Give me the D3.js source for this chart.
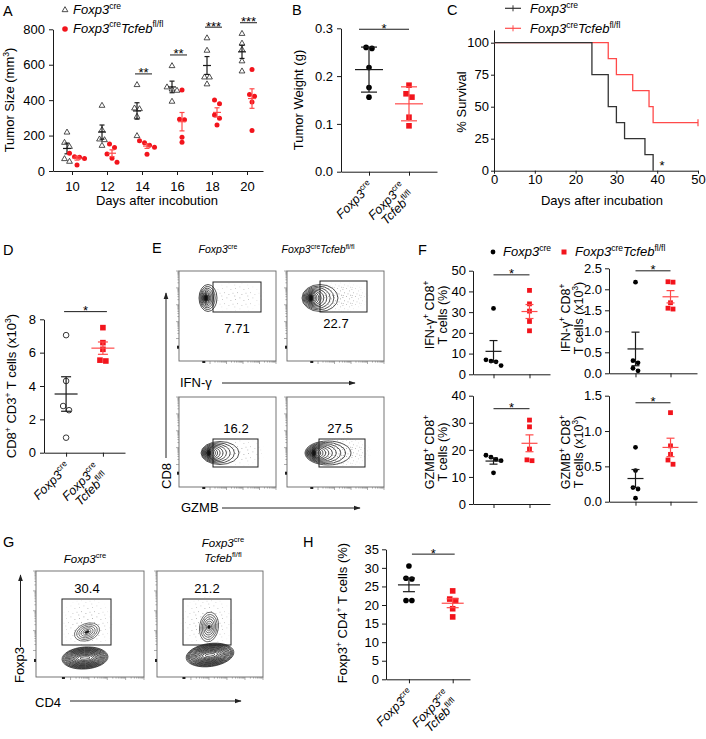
<!DOCTYPE html>
<html><head><meta charset="utf-8">
<script src="https://cdn.jsdelivr.net/npm/d3@7"></script>
<style>body{margin:0;background:#fff} svg{display:block}</style>
</head><body>
<script>
// ================= DATA =================
const genoCre = "*Foxp3*^cre^";
const genoKO = "*Foxp3*^cre^*Tcfeb*^fl/fl^";

// A: tumor size (mm3)
const aDays = [10, 12, 14, 16, 18, 20];
const aCre = [[218,160,137,68,53],[369,232,179,175,143],[486,354,350,307,198],[593,473,461,454,392],[750,680,529,529,490],[775,720,685,620,563]];
const aKO  = [[100,81,77,70,34],[153,132,96,72,49],[171,160,145,134,94],[458,292,290,190,162],[401,379,316,298,260],[573,432,422,390,228]];
const aSig = ["", "", "**", "**", "***", "***"];
const aYTicks = [0, 200, 400, 600, 800];

// B: tumor weight (g)
const bCre = [0.260, 0.258, 0.218, 0.176, 0.156];
const bKO  = [0.181, 0.163, 0.156, 0.114, 0.096];
const bYTicks = [0, 0.1, 0.2, 0.3];

// C: survival
const cCreDays = [0, 24, 28, 30, 32, 37, 39];
const cCreSurv = [100, 75, 50, 37.5, 25, 12.5, 0];
const cKODays  = [0, 28, 30, 34, 38, 39, 50];
const cKOSurv  = [100, 87.5, 75, 62.5, 50, 37.5, 37.5];
const cXTicks = [0, 10, 20, 30, 40, 50];
const cYTicks = [0, 25, 50, 75, 100];

// D: CD8+CD3+ T cells (x10^3)
const dCre = [7.05, 4.3, 2.8, 2.55, 0.9];
const dKO  = [7.5, 6.6, 6.2, 5.5, 5.55];
const dYTicks = [0, 2, 4, 6, 8];

// E: flow gate percentages
const eGates = [7.71, 22.7, 16.2, 27.5];

// F
const fIfnPctCre = [31.8, 7.0, 6.4, 6.0, 4.2];
const fIfnPctKO  = [40.5, 34.0, 30.5, 25.5, 21.0];
const fIfnNumCre = [2.17, 0.30, 0.25, 0.12, 0.06];
const fIfnNumKO  = [2.17, 2.18, 1.68, 1.53, 1.55];
const fGzmbPctCre = [18.0, 17.3, 16.5, 16.0, 11.5];
const fGzmbPctKO  = [31.0, 28.5, 20.3, 16.3, 16.0];
const fGzmbNumCre = [0.77, 0.44, 0.20, 0.18, 0.05];
const fGzmbNumKO  = [1.26, 0.79, 0.67, 0.59, 0.53];

// G: flow gate percentages
const gGates = [30.4, 21.2];

// H: Foxp3+ CD4+ T cells (%)
const hCre = [30.5, 27.2, 27.0, 21.2, 21.2];
const hKO  = [23.8, 21.6, 21.2, 19.0, 16.8];
const hYTicks = [0, 5, 10, 15, 20, 25, 30, 35];

// ================= SETUP =================
const FONT = '"Liberation Sans", Arial, Helvetica, sans-serif';
const RED = "#f2141c";
const REDL = "#ff4a4a";
const AX = "#1a1a1a";
const W = 706, H = 739;

const svg = d3.select("body").append("svg").attr("width", W).attr("height", H)
  .style("font-family", FONT);
svg.append("rect").attr("width", W).attr("height", H).attr("fill", "#fff");
const defs = svg.append("defs");
defs.append("marker").attr("id", "arr").attr("viewBox", "0 0 10 10")
  .attr("refX", 9).attr("refY", 5).attr("markerWidth", 7).attr("markerHeight", 7)
  .attr("markerUnits", "userSpaceOnUse").attr("orient", "auto")
  .append("path").attr("d", "M0,1.5L10,5L0,8.5Z").attr("fill", "#222");
function pattern(id, w, h, pts) {
  const p = defs.append("pattern").attr("id", id).attr("width", w).attr("height", h)
    .attr("patternUnits", "userSpaceOnUse");
  pts.forEach(([x, y]) => p.append("rect").attr("x", x).attr("y", y)
    .attr("width", 0.8).attr("height", 0.8).attr("fill", "#444"));
}
pattern("stD", 9, 8, [[0.5, 1], [4, 0.2], [7.2, 2.5], [2.2, 4.4], [5.6, 5.5], [8.1, 6.8], [0.8, 7.2]]);
pattern("stS", 13, 11, [[1, 2], [5.5, 0.5], [9.5, 3.2], [3.2, 6.3], [7.5, 8.2], [11.6, 6.8], [0.4, 9.6]]);
const rg = defs.append("radialGradient").attr("id", "fadeG");
rg.append("stop").attr("offset", "0").attr("stop-color", "#fff");
rg.append("stop").attr("offset", "0.55").attr("stop-color", "#aaa");
rg.append("stop").attr("offset", "1").attr("stop-color", "#000");
defs.append("mask").attr("id", "fadeM").attr("maskContentUnits", "objectBoundingBox")
  .append("rect").attr("width", 1).attr("height", 1).attr("fill", "url(#fadeG)");

// rich text: *italic*, ^superscript^
function rich(sel, str, size) {
  const parts = str.split(/(\*[^*]+\*|\^[^^]+\^)/).filter(s => s.length);
  let raised = false;
  parts.forEach(p => {
    const t = sel.append("tspan");
    if (p[0] === "^") {
      t.text(p.slice(1, -1)).attr("font-size", size * 0.66).attr("dy", -size * 0.42)
        .attr("font-style", "normal");
      raised = true;
    } else {
      const it = p[0] === "*";
      t.text(it ? p.slice(1, -1) : p).attr("font-size", size);
      if (it) t.attr("font-style", "italic");
      if (raised) { t.attr("dy", size * 0.42); raised = false; }
    }
  });
  return sel;
}
function txt(g, x, y, str, size, anchor = "start", rot = 0) {
  const t = g.append("text").attr("transform", `translate(${x},${y}) rotate(${rot})`)
    .attr("text-anchor", anchor).attr("font-size", size).attr("fill", "#000");
  return rich(t, str, size);
}
function panelLabel(l, x, y) { txt(svg, x, y, l, 14.5); }
function styleAxis(g) {
  g.attr("font-size", 13).attr("font-family", FONT);
  g.selectAll("line,path").attr("stroke", AX).attr("stroke-width", 1);
  g.selectAll("text").attr("fill", "#000");
}
function swarm(vals, ys, d) {
  const idx = vals.map((v, i) => i).sort((a, b) => vals[b] - vals[a]);
  const off = new Array(vals.length).fill(0);
  let cl = [idx[0]];
  const flush = () => { const k = cl.length; cl.forEach((i, j) => off[i] = (j - (k - 1) / 2) * d); };
  for (let j = 1; j < idx.length; j++) {
    if (Math.abs(ys(vals[idx[j]]) - ys(vals[cl[cl.length - 1]])) < d * 0.9) cl.push(idx[j]);
    else { flush(); cl = [idx[j]]; }
  }
  flush();
  return off;
}
function mark(g, type, x, y, r) {
  if (type === "dot") g.append("circle").attr("cx", x).attr("cy", y).attr("r", r).attr("fill", "#000");
  else if (type === "rdot") g.append("circle").attr("cx", x).attr("cy", y).attr("r", r).attr("fill", RED);
  else if (type === "ring") g.append("circle").attr("cx", x).attr("cy", y).attr("r", r)
    .attr("fill", "#fff").attr("stroke", "#222").attr("stroke-width", 0.9);
  else if (type === "sq") g.append("rect").attr("x", x - r).attr("y", y - r).attr("width", 2 * r)
    .attr("height", 2 * r).attr("fill", RED);
  else if (type === "tri") g.append("path").attr("transform", `translate(${x},${y})`)
    .attr("d", d3.symbol(d3.symbolTriangle, r * r * 1.6)()).attr("fill", "#fff")
    .attr("stroke", "#222").attr("stroke-width", 0.8);
}
function errbar(g, cx, vals, y, kind, mw, cw, col) {
  const m = d3.mean(vals), sd = d3.deviation(vals);
  const e = kind === "sd" ? sd : sd / Math.sqrt(vals.length);
  const ln = (x1, y1, x2, y2) => g.append("line").attr("x1", x1).attr("y1", y1).attr("x2", x2).attr("y2", y2)
    .attr("stroke", col).attr("stroke-width", 1.2);
  ln(cx - mw, y(m), cx + mw, y(m));
  ln(cx, y(m - e), cx, y(m + e));
  ln(cx - cw, y(m - e), cx + cw, y(m - e));
  ln(cx - cw, y(m + e), cx + cw, y(m + e));
}
function sigBar(g, x1, x2, yy, s) {
  g.append("line").attr("x1", x1).attr("x2", x2).attr("y1", yy).attr("y2", yy).attr("stroke", AX).attr("stroke-width", 1);
  g.append("text").attr("x", (x1 + x2) / 2).attr("y", yy + 3.5).attr("text-anchor", "middle")
    .attr("font-size", 13).text(s);
}

function dotPanel(o) {
  const g = svg.append("g");
  const y = d3.scaleLinear(o.dom, o.yr);
  const x = d3.scalePoint([0, 1], [o.ax, o.x1]).padding(o.pad).align(o.align ?? 0.5);
  styleAxis(g.append("g").attr("transform", `translate(${o.ax},0)`)
    .call(d3.axisLeft(y).tickValues(o.ticks).tickFormat(d3.format(o.fmt)).tickSize(4).tickPadding(o.tp ?? 3).tickSizeOuter(0)));
  styleAxis(g.append("g").attr("transform", `translate(0,${o.yr[0]})`)
    .call(d3.axisBottom(x).tickSize(4).tickFormat("").tickSizeOuter(0)));
  o.data.forEach((vals, gi) => {
    const cx = x(gi);
    const off = swarm(vals, y, o.r * 2.1);
    vals.forEach((v, i) => mark(g, o.marks[gi], cx + off[i], y(v), o.r));
    errbar(g, cx, vals, y, o.err, o.mw, o.cw, gi ? REDL : AX);
  });
  sigBar(g, x(0) + (o.sx1 ?? 0), x(1) + (o.sx2 ?? 0), y(o.sig), "*");
  if (o.labels) {
    const ay = o.yr[0], fs = 12.5;
    txt(g, x(0) + 5, ay + 15, genoCre, fs, "end", -45);
    txt(g, x(1) - 3, ay + 16, genoCre, fs, "end", -45);
    txt(g, x(1) + 6, ay + 25, "*Tcfeb*^fl/fl^", fs, "end", -45);
  }
  return { x, y };
}

// ================= PANEL A =================
{
  const g = svg.append("g");
  const y = d3.scaleLinear([0, 800], [171, 29.3]);
  const x = d3.scaleLinear([8.914, 20.914], [53, 263]);
  styleAxis(g.append("g").attr("transform", "translate(53,0)")
    .call(d3.axisLeft(y).tickValues(aYTicks).tickSize(4).tickPadding(4).tickSizeOuter(0)));
  styleAxis(g.append("g").attr("transform", "translate(0,171)")
    .call(d3.axisBottom(x).tickValues(aDays).tickSize(4).tickPadding(7).tickSizeOuter(0)));
  aDays.forEach((d, i) => {
    const cx = x(d);
    [[aCre[i], -5, "tri", AX], [aKO[i], 5, "rdot", REDL]].forEach(([vals, dx, type, col]) => {
      const off = swarm(vals, y, 5);
      vals.forEach((v, j) => mark(g, type, cx + dx + off[j], y(v), type === "tri" ? 3 : 2.5));
      errbar(g, cx + dx, vals, y, "sem", 4, 2.5, col);
    });
    if (aSig[i]) {
      const top = d3.max(aCre[i].concat(aKO[i]));
      sigBar(g, cx - 7, cx + 10, y(top) - 11, aSig[i]);
    }
  });
  txt(g, 14, 100, "Tumor Size (mm^3^)", 13, "middle", -90);
  txt(g, 157, 205, "Days after incobution", 13, "middle");
  mark(g, "tri", 65, 10, 3);
  txt(g, 73, 14, genoCre, 13);
  mark(g, "rdot", 65, 29, 2.8);
  txt(g, 73, 32.5, genoKO, 13);
  panelLabel("A", 3, 16);
}

// ================= PANEL B =================
dotPanel({ ax: 341, x1: 437, dom: [0, 0.3], yr: [171.7, 28.3], ticks: bYTicks, fmt: ".1f", tp: 4,
  pad: 0.7, data: [bCre, bKO], marks: ["dot", "sq"], r: 2.8, err: "sd", mw: 14, cw: 8,
  sig: 0.298, sx1: -10, labels: true });
txt(svg, 303, 100, "Tumor Weight (g)", 13, "middle", -90);
panelLabel("B", 292, 15);

// ================= PANEL C =================
{
  const g = svg.append("g");
  const x = d3.scaleLinear([0, 50], [494, 698]);
  const y = d3.scaleLinear([0, 110], [170.7, 29.9]);
  styleAxis(g.append("g").attr("transform", "translate(494,0)")
    .call(d3.axisLeft(y).tickValues(cYTicks).tickSize(3).tickPadding(2).tickSizeOuter(0)));
  styleAxis(g.append("g").attr("transform", "translate(0,170.7)")
    .call(d3.axisBottom(x).tickValues(cXTicks).tickSize(3).tickPadding(1).tickSizeOuter(0)));
  const line = (days) => d3.line().x((d, i) => x(days[i])).y(d => y(d)).curve(d3.curveStepAfter);
  g.append("path").attr("d", line(cKODays)(cKOSurv)).attr("fill", "none").attr("stroke", REDL).attr("stroke-width", 1.3);
  g.append("line").attr("x1", x(50)).attr("x2", x(50)).attr("y1", y(37.5) - 3.5).attr("y2", y(37.5) + 3.5).attr("stroke", REDL).attr("stroke-width", 1.2);
  g.append("path").attr("d", line(cCreDays)(cCreSurv)).attr("fill", "none").attr("stroke", "#333").attr("stroke-width", 1.3);
  g.append("text").attr("x", x(41.2)).attr("y", 170).attr("text-anchor", "middle").attr("font-size", 13).text("*");
  txt(g, 466, 102, "% Survival", 13, "middle", -90);
  txt(g, 602, 205, "Days after incubation", 13, "middle");
  [[8.3, "#333", genoCre], [28.3, REDL, genoKO]].forEach(([ly, col, s]) => {
    g.append("line").attr("x1", 505).attr("x2", 521).attr("y1", ly).attr("y2", ly).attr("stroke", col).attr("stroke-width", 1.2);
    g.append("line").attr("x1", 513).attr("x2", 513).attr("y1", ly - 3).attr("y2", ly + 3).attr("stroke", col).attr("stroke-width", 1);
    txt(g, 530, ly + 5, s, 13);
  });
  panelLabel("C", 447, 15);
}

// ================= PANEL D =================
dotPanel({ ax: 44, x1: 125, dom: [0, 8], yr: [452.7, 319.3], ticks: dYTicks, fmt: "d", tp: 4,
  pad: 0.6, data: [dCre, dKO], marks: ["ring", "sq"], r: 2.8, err: "sem", mw: 11.5, cw: 5,
  sig: 8.46, sx1: -2, sx2: 4, labels: true });
txt(svg, 16, 386, "CD8^+^ CD3^+^ T cells (x10^3^)", 13, "middle", -90);
panelLabel("D", 3, 255);

// ================= FLOW HELPERS =================
function flowBox(g, x0, y0, w, h) {
  g.append("rect").attr("x", x0).attr("y", y0).attr("width", w).attr("height", h)
    .attr("fill", "none").attr("stroke", "#666").attr("stroke-width", 0.9);
  const lx = d3.scaleLog([1, 1e4], [x0 + w * 0.32, x0 + w]);
  const ly = d3.scaleLog([1, 1e4], [y0 + h * 0.75, y0]);
  const maj = v => Math.abs(Math.log10(v) - Math.round(Math.log10(v))) < 1e-9;
  lx.ticks().forEach(v => g.append("line").attr("x1", lx(v)).attr("x2", lx(v)).attr("y1", y0 + h).attr("y2", y0 + h + (maj(v) ? 3 : 1.6)).attr("stroke", "#777").attr("stroke-width", 0.6));
  ly.ticks().forEach(v => g.append("line").attr("y1", ly(v)).attr("y2", ly(v)).attr("x1", x0).attr("x2", x0 - (maj(v) ? 3 : 1.6)).attr("stroke", "#777").attr("stroke-width", 0.6));
  g.append("rect").attr("x", x0 + w * 0.24).attr("y", y0 + h).attr("width", 3).attr("height", 2).attr("fill", "#222");
  g.append("rect").attr("x", x0 - 2).attr("y", y0 + h * 0.83).attr("width", 2).attr("height", 3).attr("fill", "#222");
}
function stipple(g, cx, cy, rx, ry, id, op = 0.8) {
  g.append("ellipse").attr("cx", cx).attr("cy", cy).attr("rx", rx).attr("ry", ry)
    .attr("fill", `url(#${id})`).attr("mask", "url(#fadeM)").attr("opacity", op);
}
function blob(g, b) {
  const n = b.n, p = b.p ?? 1.6;
  const gg = g.append("g").attr("transform", `rotate(${b.rot || 0},${b.cx},${b.cy})`);
  for (let k = n - 1; k >= 0; k--) {
    const t = Math.pow(k / (n - 1), p);
    gg.append("ellipse")
      .attr("cx", b.cx + (b.sh || 0) * Math.pow(k / (n - 1), 2.2))
      .attr("cy", b.cy)
      .attr("rx", b.in[0] + (b.out[0] - b.in[0]) * t)
      .attr("ry", b.in[1] + (b.out[1] - b.in[1]) * t)
      .attr("fill", k === 0 && b.core !== false ? "#111" : "none")
      .attr("stroke", b.col || "#1b1b1b").attr("stroke-width", b.sw || 0.75);
  }
}
function gate(g, x, y, w, h) {
  g.append("rect").attr("x", x).attr("y", y).attr("width", w).attr("height", h)
    .attr("fill", "none").attr("stroke", "#222").attr("stroke-width", 1);
}
function numLabel(g, x, y, v) {
  g.append("text").attr("x", x).attr("y", y).attr("text-anchor", "middle").attr("font-size", 13).text(v);
}

// ================= PANEL E =================
{
  const g = svg.append("g");
  const boxes = [[179, 271], [287, 271], [179, 397], [287, 397]];
  const bw = 97, bh = 90;
  boxes.forEach(([x0, y0]) => flowBox(g, x0, y0, bw, bh));
  // IFN-g row
  stipple(g, 236, 297, 30, 16, "stS", 0.6);
  blob(g, { cx: 206, cy: 298, in: [1.5, 3], out: [9, 13.5], n: 10, sh: 2, p: 1.7 });
  gate(g, 213, 282, 48, 30);
  numLabel(g, 237, 333, d3.format(".2f")(eGates[0]));
  stipple(g, 340, 297, 30, 16, "stD", 0.7);
  blob(g, { cx: 311, cy: 298, in: [1.5, 3], out: [18, 13.5], n: 13, sh: 9, p: 1.9 });
  gate(g, 320, 281, 47, 31);
  numLabel(g, 336, 328, eGates[1]);
  // GZMB row
  stipple(g, 238, 452, 28, 15, "stS", 0.7);
  blob(g, { cx: 209, cy: 453, in: [1.5, 2.5], out: [19, 11.5], n: 13, sh: 11, p: 1.9 });
  gate(g, 213, 439, 45, 28);
  numLabel(g, 236, 433, eGates[2]);
  stipple(g, 342, 452, 30, 16, "stD", 0.75);
  blob(g, { cx: 314, cy: 453, in: [1.5, 2.5], out: [23, 12], n: 14, sh: 14, p: 1.9 });
  gate(g, 319, 439, 46, 28);
  numLabel(g, 340, 433, eGates[3]);
  // headers & axes
  txt(g, 218, 253, genoCre, 10.5, "middle");
  txt(g, 318, 253, genoKO, 10.5, "middle");
  txt(g, 180, 387, "IFN-γ", 13);
  g.append("line").attr("x1", 222).attr("x2", 355).attr("y1", 383).attr("y2", 383).attr("stroke", "#222").attr("marker-end", "url(#arr)");
  txt(g, 181, 512, "GZMB", 13);
  g.append("line").attr("x1", 222).attr("x2", 360).attr("y1", 508).attr("y2", 508).attr("stroke", "#222").attr("marker-end", "url(#arr)");
  txt(g, 171, 476, "CD8", 13, "middle", -90);
  g.append("line").attr("x1", 166).attr("x2", 166).attr("y1", 458).attr("y2", 293).attr("stroke", "#222").attr("marker-end", "url(#arr)");
  panelLabel("E", 152, 253);
}

// ================= PANEL F =================
{
  const L = { ax: 473, x1: 550, pad: 0.57 }, R = { ax: 609, x1: 697, pad: 0.757 };
  const common = { marks: ["dot", "sq"], r: 2.4, err: "sem", mw: 8, cw: 4, tp: 3 };
  dotPanel({ ...common, ...L, dom: [0, 50], yr: [374.3, 270.7], ticks: [0, 10, 20, 30, 40, 50], fmt: "d", data: [fIfnPctCre, fIfnPctKO], sig: 48 });
  dotPanel({ ...common, ...R, dom: [0, 2.5], yr: [373.3, 268.3], ticks: [0, 0.5, 1, 1.5, 2, 2.5], fmt: ".1f", data: [fIfnNumCre, fIfnNumKO], sig: 2.44 });
  dotPanel({ ...common, ...L, dom: [0, 40], yr: [504, 395.7], ticks: [0, 10, 20, 30, 40], fmt: "d", data: [fGzmbPctCre, fGzmbPctKO], sig: 35.2 });
  dotPanel({ ...common, ...R, dom: [0, 1.5], yr: [501.7, 395.7], ticks: [0, 0.5, 1, 1.5], fmt: ".1f", data: [fGzmbNumCre, fGzmbNumKO], sig: 1.40 });
  txt(svg, 434, 315, "IFN-γ^+^ CD8^+^", 12.5, "middle", -90);
  txt(svg, 447, 315, "T cells (%)", 12.5, "middle", -90);
  txt(svg, 434, 452, "GZMB^+^ CD8^+^", 12.5, "middle", -90);
  txt(svg, 447, 452, "T cells (%)", 12.5, "middle", -90);
  txt(svg, 570, 318, "IFN-γ^+^ CD8^+^", 12.5, "middle", -90);
  txt(svg, 583, 318, "T cells (x10^3^)", 12.5, "middle", -90);
  txt(svg, 570, 452, "GZMB^+^ CD8^+^", 12.5, "middle", -90);
  txt(svg, 583, 452, "T cells (x10^3^)", 12.5, "middle", -90);
  mark(svg, "dot", 493, 252, 2.4);
  txt(svg, 503, 256, genoCre, 13);
  mark(svg, "sq", 564, 252, 2.5);
  txt(svg, 575, 256, genoKO, 13);
  panelLabel("F", 418, 255);
}

// ================= PANEL G =================
{
  const g = svg.append("g");
  flowBox(g, 36, 571, 108, 106);
  flowBox(g, 157, 571, 106, 106);
  stipple(g, 87, 624, 28, 28, "stS", 0.75);
  stipple(g, 207, 622, 28, 28, "stS", 0.75);
  blob(g, { cx: 85, cy: 658, in: [5, 1.2], out: [23, 11], n: 15, p: 0.75, rot: -4, col: "#222", core: false });
  blob(g, { cx: 87, cy: 632, in: [2.5, 1.2], out: [13, 8.5], n: 6, p: 1.1, rot: -20, col: "#555" });
  blob(g, { cx: 210, cy: 655, in: [5, 1.2], out: [24, 11.5], n: 15, p: 0.75, rot: -8, col: "#222", core: false });
  blob(g, { cx: 209, cy: 627, in: [1.5, 2], out: [9.5, 15], n: 7, p: 1.1, rot: 8, col: "#444" });
  gate(g, 62, 599, 49, 46);
  gate(g, 183, 599, 48, 46);
  numLabel(g, 87, 593, gGates[0]);
  numLabel(g, 207, 593, gGates[1]);
  txt(g, 85, 563, genoCre, 11.5, "middle");
  txt(g, 223, 547, genoCre, 11.5, "middle");
  txt(g, 223, 562, "*Tcfeb*^fl/fl^", 11.5, "middle");
  txt(g, 24, 665, "Foxp3", 13, "middle", -90);
  g.append("line").attr("x1", 20.5).attr("x2", 20.5).attr("y1", 647).attr("y2", 575).attr("stroke", "#222").attr("marker-end", "url(#arr)");
  txt(g, 35, 707, "CD4", 13);
  g.append("line").attr("x1", 70).attr("x2", 241).attr("y1", 701).attr("y2", 701).attr("stroke", "#222").attr("marker-end", "url(#arr)");
  panelLabel("G", 3, 547);
}

// ================= PANEL H =================
dotPanel({ ax: 386, x1: 470, dom: [0, 35], yr: [679.3, 549.3], ticks: hYTicks, fmt: "d", tp: 3,
  pad: 0.46, align: 0.57, data: [hCre, hKO], marks: ["dot", "sq"], r: 2.8, err: "sem", mw: 11, cw: 6,
  sig: 33.7, sx1: 3, sx2: 2, labels: true });
txt(svg, 347, 613, "Foxp3^+^ CD4^+^ T cells (%)", 13, "middle", -90);
panelLabel("H", 303, 547);
</script>
</body></html>
